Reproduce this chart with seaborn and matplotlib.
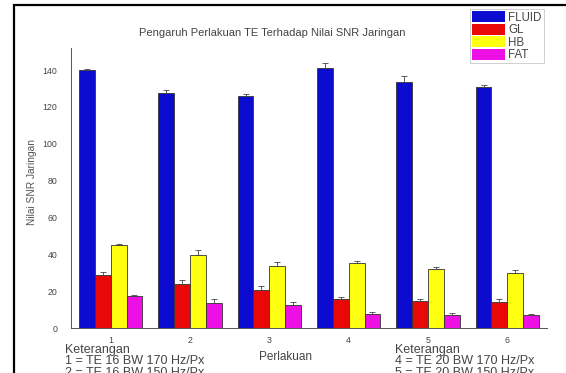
import matplotlib
matplotlib.use("Agg")
import matplotlib.pyplot as plt
import matplotlib.patches as mpatches
from matplotlib.ticker import MultipleLocator, FixedLocator
import seaborn as sns
import pandas as pd
import numpy as np

# ---- data ----
groups = ["1", "2", "3", "4", "5", "6"]
series = ["FLUID", "GL", "HB", "FAT"]
fluid = [140.0, 127.5, 126.0, 141.3, 133.3, 130.8]
gl = [29.0, 23.8, 20.5, 15.7, 14.8, 14.3]
hb = [44.8, 39.7, 33.8, 35.4, 32.0, 30.0]
fat = [17.2, 13.7, 12.3, 7.6, 7.2, 6.9]
fluid_err = [0.8, 1.5, 0.8, 2.5, 3.3, 1.0]
gl_err = [1.5, 2.5, 2.2, 1.2, 1.2, 1.2]
hb_err = [1.0, 2.5, 2.0, 1.0, 1.0, 1.5]
fat_err = [0.8, 2.0, 1.8, 1.0, 0.8, 0.8]
colors = ["#0c0cd0", "#e80808", "#ffff10", "#ec10e4"]

title = "Pengaruh Perlakuan TE Terhadap Nilai SNR Jaringan"
xlabel = "Perlakuan"
ylabel = "Nilai SNR Jaringan"
note_left = ["Keterangan", "1 = TE 16 BW 170 Hz/Px", "2 = TE 16 BW 150 Hz/Px"]
note_right = ["Keterangan", "4 = TE 20 BW 170 Hz/Px", "5 = TE 20 BW 150 Hz/Px"]

vals = [fluid, gl, hb, fat]
errs = [fluid_err, gl_err, hb_err, fat_err]
df = pd.DataFrame({
    "Perlakuan": [g for s in series for g in groups],
    "Seri": [s for s in series for g in groups],
    "Nilai": [v for vs in vals for v in vs],
})

sns.set_style("white")
plt.rcParams["font.family"] = ["Liberation Sans", "DejaVu Sans"]

W, H = 566, 373
fig = plt.figure(figsize=(W / 100, H / 100), dpi=100)
ax = fig.add_axes([71 / W, (H - 328) / H, (547 - 71) / W, (328 - 48) / H])

sns.barplot(data=df, x="Perlakuan", y="Nilai", hue="Seri", order=groups,
            hue_order=series, palette=colors, saturation=1, errorbar=None,
            width=0.8, edgecolor="#333333", linewidth=0.6, ax=ax, legend=False)

# error bars (upper only), positioned from the drawn bars
for si, s in enumerate(series):
    cont = ax.containers[si]
    for bi, bar in enumerate(cont):
        xc = bar.get_x() + bar.get_width() / 2
        top = bar.get_height()
        ax.errorbar(xc, top, yerr=[[0], [errs[si][bi]]], fmt="none",
                    ecolor="#444444", elinewidth=0.6, capsize=2.5, capthick=0.6)

ax.set_xlim(-0.5, 5.5)
ax.set_ylim(0, 152)
ax.yaxis.set_major_locator(FixedLocator([0, 20, 40, 60, 80, 100, 120, 140]))
ax.yaxis.set_minor_locator(MultipleLocator(10))
ax.xaxis.set_minor_locator(FixedLocator([0.5, 1.5, 2.5, 3.5, 4.5]))
for s in ["top", "right"]:
    ax.spines[s].set_visible(False)
for s in ["left", "bottom"]:
    ax.spines[s].set_color("#555555")
    ax.spines[s].set_linewidth(0.7)
ax.tick_params(axis="both", which="major", direction="out", length=3, width=0.6,
               color="#555555", labelsize=6.3, labelcolor="#444444")
ax.tick_params(axis="y", which="major", pad=7)
ax.tick_params(axis="both", which="minor", direction="out", length=2, width=0.5,
               color="#777777")
ax.tick_params(axis="x", which="major", length=2, pad=4)
ax.set_xlabel("")
ax.set_ylabel(ylabel, fontsize=7.3, color="#555555")
ax.yaxis.set_label_coords(-0.072, 0.52)

fig.text(272 / W, 1 - 33 / H, title, ha="center", va="center", fontsize=8, color="#444444")
fig.text(286 / W, 1 - 357 / H, xlabel, ha="center", va="center", fontsize=8.5, color="#444444")

for i, line in enumerate(note_left):
    fig.text(65 / W, 1 - (350 + 11.5 * i) / H, line, ha="left", va="center",
             fontsize=9, color="#444444")
for i, line in enumerate(note_right):
    fig.text(395 / W, 1 - (350 + 11.5 * i) / H, line, ha="left", va="center",
             fontsize=9, color="#444444")

handles = [mpatches.Patch(facecolor=c, edgecolor="none") for c in colors]
leg = fig.legend(handles, series, loc="upper left",
                 bbox_to_anchor=(470 / W, 1 - 9 / H), fontsize=8.3,
                 handlelength=2.8, handleheight=1.1, labelspacing=0.0,
                 handletextpad=0.3, borderpad=0.2, borderaxespad=0,
                 frameon=True, fancybox=False, labelcolor="#444444")
leg.get_frame().set_edgecolor("#bbbbbb")
leg.get_frame().set_linewidth(0.6)

# outer frame of the original (cropped) graph page
rect = mpatches.Rectangle((14 / W, -0.2), 1.2, (H - 5) / H + 0.2,
                          transform=fig.transFigure, fill=False,
                          edgecolor="black", linewidth=1.6, clip_on=False)
fig.add_artist(rect)

fig.savefig("out.png", dpi=100)
